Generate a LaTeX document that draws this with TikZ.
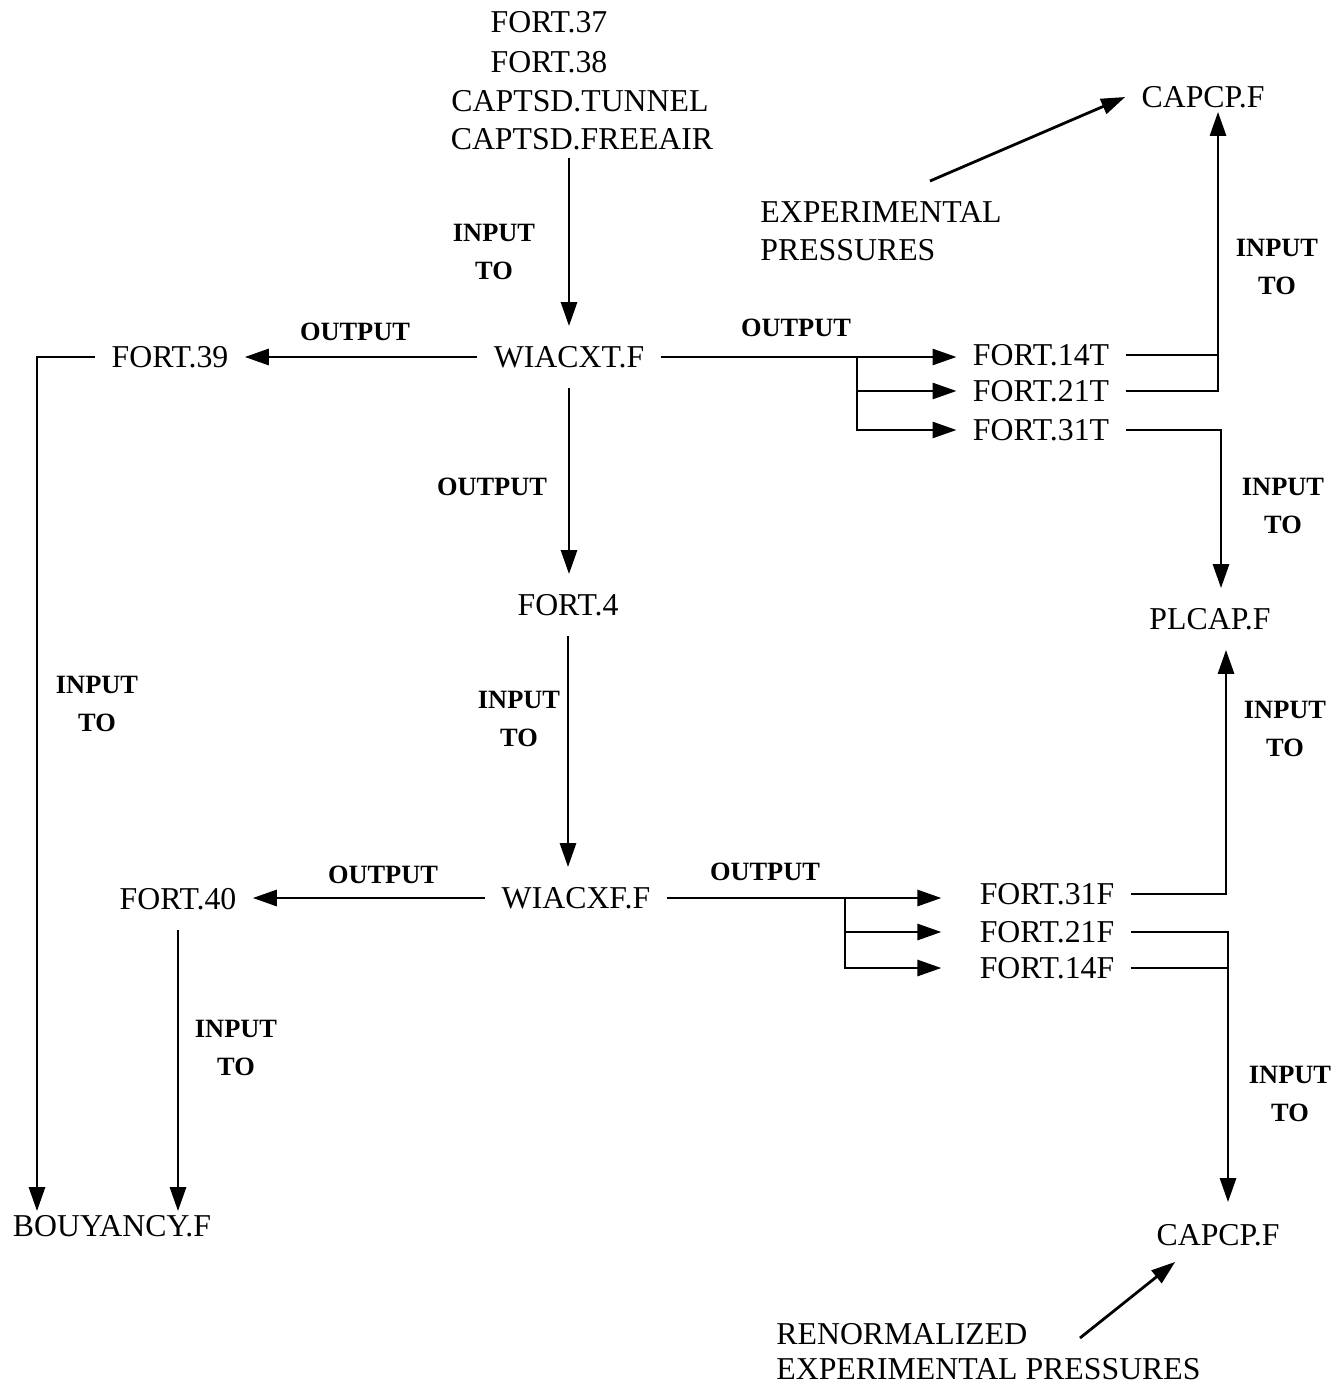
\documentclass[tikz,border=0pt]{standalone}
\usepackage{fontspec}
\setmainfont{Liberation Serif}
\usetikzlibrary{arrows.meta}
\begin{document}
\begin{tikzpicture}[x=0.5pt,y=-0.5pt,
 box/.style={font=\fontsize{15.9}{19}\selectfont, inner xsep=8pt, inner ysep=10pt, text height=10.5pt, text depth=0pt},
 tight/.style={box, inner ysep=2pt},
 srcline/.style={box, inner ysep=4pt},
 lbl/.style={font=\fontsize{13.2}{19}\selectfont\bfseries, align=center, inner sep=0pt},
 txt/.style={align=left, inner sep=0pt, anchor=north west},
 ln/.style={line width=1.4pt},
 arr/.style={ln, -{Triangle[length=12pt,width=8pt]}}]
\useasboundingbox (0,0) rectangle (1341,1390);

% source files
\node[srcline] (s1) at (549,22) {FORT.37};
\node[srcline] (s2) at (549,62) {FORT.38};
\node[srcline] (s3) at (580,101) {CAPTSD.TUNNEL};
\node[srcline] (s4) at (582,139) {CAPTSD.FREEAIR};

% main nodes
\node[box] (wiacxt) at (569,357) {WIACXT.F};
\node[box] (f39) at (170,357) {FORT.39};
\node[box] (f14t) at (1041,355) {FORT.14T};
\node[box] (f21t) at (1041,391) {FORT.21T};
\node[box] (f31t) at (1041,430) {FORT.31T};
\node[tight] (capcp1) at (1203,97) {CAPCP.F};
\node[txt, font=\fontsize{15.9}{19}\selectfont] (exp) at (760,201) {EXPERIMENTAL\\PRESSURES};
\node[box] (plcap) at (1210,619) {PLCAP.F};
\node[box] (fort4) at (568,605) {FORT.4};
\node[box] (wiacxf) at (576,898) {WIACXF.F};
\node[box] (f40) at (178,899) {FORT.40};
\node[box] (f31f) at (1047,894) {FORT.31F};
\node[box] (f21f) at (1047,932) {FORT.21F};
\node[box] (f14f) at (1047,968) {FORT.14F};
\node[tight] (bouy) at (112,1226) {BOUYANCY.F};
\node[tight] (capcp2) at (1218,1235) {CAPCP.F};
\node[txt, font=\fontsize{15.9}{17.5}\selectfont] (ren) at (776,1323) {RENORMALIZED\\EXPERIMENTAL PRESSURES};

% labels
\node[lbl] (l1) at (494,252) {INPUT\\TO};
\node[lbl] (l2) at (355,332) {OUTPUT};
\node[lbl] (l3) at (796,328) {OUTPUT};
\node[lbl] (l4) at (1277,267) {INPUT\\TO};
\node[lbl] (l5) at (492,487) {OUTPUT};
\node[lbl] (l6) at (1283,506) {INPUT\\TO};
\node[lbl] (l7) at (97,704) {INPUT\\TO};
\node[lbl] (l8) at (519,719) {INPUT\\TO};
\node[lbl] (l9) at (1285,729) {INPUT\\TO};
\node[lbl] (l10) at (383,875) {OUTPUT};
\node[lbl] (l11) at (765,872) {OUTPUT};
\node[lbl] (l12) at (236,1048) {INPUT\\TO};
\node[lbl] (l13) at (1290,1094) {INPUT\\TO};

% junction coordinates
\coordinate (bT) at (857,357);
\coordinate (bF) at (845,898);
\coordinate (jT1) at (1218,391);
\coordinate (jT2) at (1221,430);
\coordinate (jF1) at (1226,894);
\coordinate (jF2) at (1228,932);
\coordinate (jL) at (37,357);

% connectors
\draw[arr] (s4.south -| wiacxt.north) -- (wiacxt.north);
\draw[arr] (wiacxt.west) -- (wiacxt.west -| f39.east);
\draw[arr] (wiacxt.east) -- (wiacxt.east -| f14t.west);
\draw[arr] (bT) |- (f21t.west);
\draw[arr] (bT) |- (f31t.west);
\draw[ln] (f14t.east) -- (f14t.east -| jT1);
\draw[arr] (f21t.east) -- (jT1) -- (jT1 |- capcp1.south);
\draw[arr] ([shift={(170,-20)}]exp.north west) -- (capcp1.west);
\draw[arr] (f31t.east) -- (jT2) -- (jT2 |- plcap.north);
\draw[arr] (wiacxt.south) -- (wiacxt.south |- fort4.north);
\draw[arr] (fort4.south) -- (fort4.south |- wiacxf.north);
\draw[arr] (wiacxf.west) -- (wiacxf.west -| f40.east);
\draw[arr, shorten >=11pt] (wiacxf.east) -- (wiacxf.east -| f31f.west);
\draw[arr, shorten >=11pt] (bF) |- (f21f.west);
\draw[arr, shorten >=11pt] (bF) |- (f14f.west);
\draw[arr] (f31f.east) -- (jF1) -- (jF1 |- plcap.south);
\draw[ln] (f14f.east) -- (f14f.east -| jF2);
\draw[arr, shorten >=9pt] (f21f.east) -- (jF2) -- (jF2 |- capcp2.north);
\draw[arr] ([shift={(304,15)}]ren.north west) -- ([shift={(35,12)}]capcp2.south west);
\draw[arr] (f39.west) -- (jL) -- (jL |- bouy.north);
\draw[arr] (f40.south) -- (f40.south |- bouy.north);
\end{tikzpicture}
\end{document}
